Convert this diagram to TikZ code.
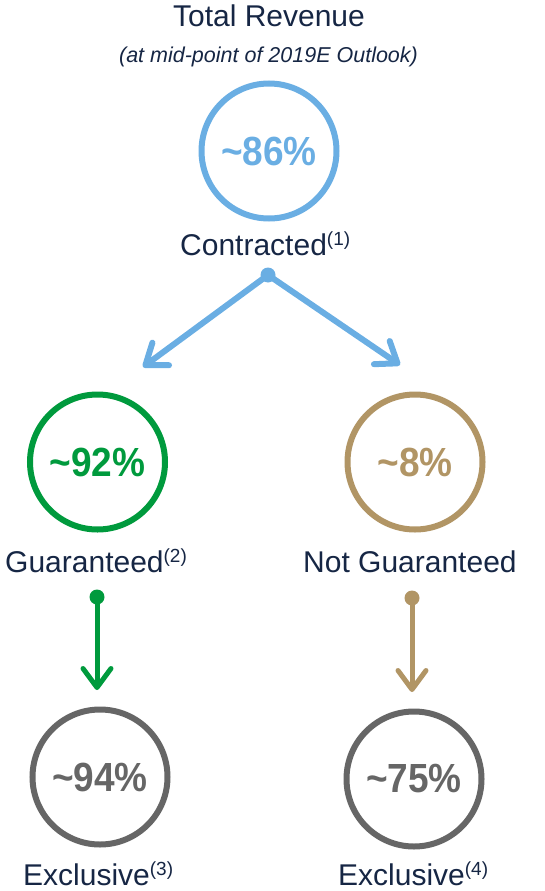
\documentclass[tikz,border=0pt]{standalone}
\usepackage{fontspec}
\setmainfont{Liberation Sans}
\usetikzlibrary{arrows.meta}
\definecolor{navy}{RGB}{22,38,68}
\definecolor{skyblue}{RGB}{106,174,227}
\definecolor{leafgreen}{RGB}{0,154,61}
\definecolor{sand}{RGB}{177,149,101}
\definecolor{slate}{RGB}{102,102,102}
% footnote marker set as a raised, smaller parenthesised number
\newcommand{\fnref}[1]{\raisebox{10pt}{\fontsize{19}{19}\selectfont(#1)}}
% percentage figures, slightly tall
\newcommand{\pct}[1]{\scalebox{1}[1.1]{#1}}
\begin{document}
\begin{tikzpicture}[x=1pt,y=-1pt,
  ring/.style={circle,draw,line width=6pt,minimum size=135pt,inner sep=0pt,
    font=\fontsize{37}{37}\selectfont\bfseries},
  lbl/.style={inner sep=0pt,text=navy,font=\fontsize{30}{30}\selectfont},
  dotnode/.style={circle,fill,inner sep=0pt,minimum size=15pt},
  flow/.style={line width=6pt,line cap=round,
    -{Straight Barb[length=19pt,width=28pt,round]}}]
\useasboundingbox (0,0) rectangle (545,891);

% heading
\node[lbl,anchor=base] (title) at (269,27) {Total Revenue};
\node[lbl,anchor=base,font=\fontsize{21.5}{21.5}\selectfont\itshape] (sub) at (268.5,63)
  {(at mid-point of 2019E Outlook)};

% top level
\node[ring,skyblue,text=skyblue] (c0) at (269,151) {\pct{\textasciitilde86\%}};
\node[lbl,anchor=base west] (t0) at (180,255) {Contracted\fnref{1}};
\node[dotnode,skyblue] (d0) at (268,275) {};

% second level
\node[ring,leafgreen,text=leafgreen] (c1) at (97.5,462) {\pct{\textasciitilde92\%}};
\node[ring,sand,text=sand] (c2) at (415,462) {\pct{\textasciitilde8\%}};
\node[lbl,anchor=base west] (t1) at (5,572) {Guaranteed\fnref{2}};
\node[lbl,anchor=base west] (t2) at (303,572) {Not Guaranteed};
\coordinate (e1) at (143,367);
\coordinate (e2) at (400,365);
\draw[flow,skyblue] (d0.center) -- (e1);
\draw[flow,skyblue] (d0.center) -- (e2);

% third level
\node[dotnode,leafgreen] (d1) at (97,597) {};
\node[dotnode,sand] (d2) at (412,598) {};
\coordinate (e3) at (97,690);
\coordinate (e4) at (412,692);
\draw[flow,leafgreen,line width=5pt] (d1.center) -- (e3);
\draw[flow,sand,line width=5pt] (d2.center) -- (e4);

\node[ring,slate,text=slate] (c3) at (100,777) {\pct{\textasciitilde94\%}};
\node[ring,slate,text=slate] (c4) at (414,779) {\pct{\textasciitilde75\%}};
\node[lbl,anchor=base west] (t3) at (23,885) {Exclusive\fnref{3}};
\node[lbl,anchor=base west] (t4) at (338,885) {Exclusive\fnref{4}};
\end{tikzpicture}
\end{document}
